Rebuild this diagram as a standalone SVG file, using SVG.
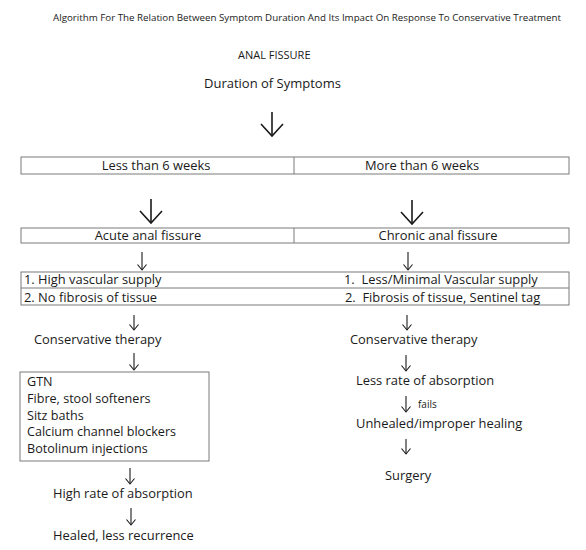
<svg xmlns="http://www.w3.org/2000/svg" width="586" height="550" viewBox="0 0 586 550">
<style>
text{font-family:"Open Sans","Noto Sans","DejaVu Sans",sans-serif;fill:#1a1a1a}
.t{font-size:12.9px}
.l{font-size:12.6px}
.m{text-anchor:middle}
.box{fill:#fff;stroke:#7a7a7a;stroke-width:1}
.c{stroke:#1a1a1a;fill:none}
.big{stroke-width:1.6}
.sm{stroke-width:1.1}
</style>
<defs>
<marker id="hb" markerUnits="userSpaceOnUse" viewBox="-14 -12 16 24" markerWidth="16" markerHeight="24" refX="0" refY="0" orient="auto">
<path d="M-12,-11 L0,0 L-12,11" fill="none" stroke="#1a1a1a" stroke-width="1.6"/>
</marker>
<marker id="hs" markerUnits="userSpaceOnUse" viewBox="-7 -6 8 12" markerWidth="8" markerHeight="12" refX="0" refY="0" orient="auto">
<path d="M-5.5,-4.5 L0,0 L-5.5,4.5" fill="none" stroke="#1a1a1a" stroke-width="1.1"/>
</marker>
</defs>
<rect width="586" height="550" fill="#fff"/>
<g id="title"><text x="53" y="21" style="font-size:9.75px">Algorithm For The Relation Between Symptom Duration And Its Impact On Response To Conservative Treatment</text></g>
<g id="anal-fissure"><text x="238" y="59" style="font-size:11px">ANAL FISSURE</text></g>
<g id="duration"><text x="204" y="88" style="font-size:13px">Duration of Symptoms</text></g>
<g id="row-weeks">
<rect class="box" x="21" y="157" width="548" height="17"/>
<line class="box" x1="294" y1="157" x2="294" y2="174"/>
<text class="t m" x="156" y="170">Less than 6 weeks</text>
<text class="t m" x="422" y="170">More than 6 weeks</text>
</g>
<g id="row-type">
<rect class="box" x="21" y="228" width="548" height="15"/>
<line class="box" x1="294" y1="228" x2="294" y2="243"/>
<text class="t m" x="148" y="240">Acute anal fissure</text>
<text class="t m" x="438" y="240">Chronic anal fissure</text>
</g>
<g id="row-features">
<rect class="box" x="21" y="272" width="548" height="33"/>
<line class="box" x1="21" y1="288" x2="569" y2="288"/>
<text class="t" x="24" y="284">1. High vascular supply</text>
<text class="t" x="24" y="302">2. No fibrosis of tissue</text>
<text class="t" x="344" y="284" xml:space="preserve">1.  Less/Minimal Vascular supply</text>
<text class="t" x="345" y="302" xml:space="preserve">2.  Fibrosis of tissue, Sentinel tag</text>
</g>
<g id="acute-conservative"><text class="t" x="34" y="344">Conservative therapy</text></g>
<g id="chronic-conservative"><text class="t" x="350" y="344">Conservative therapy</text></g>
<g id="treatments">
<rect class="box" x="20" y="372" width="189" height="89"/>
<text class="l" x="27" y="386">GTN</text>
<text class="l" x="27" y="402.75">Fibre, stool softeners</text>
<text class="l" x="27" y="419.5">Sitz baths</text>
<text class="l" x="27" y="436.25">Calcium channel blockers</text>
<text class="l" x="27" y="453">Botolinum injections</text>
</g>
<g id="high-absorption"><text class="t" x="53" y="498">High rate of absorption</text></g>
<g id="healed"><text class="t" x="53" y="540">Healed, less recurrence</text></g>
<g id="less-absorption"><text class="t" x="356" y="385">Less rate of absorption</text></g>
<g id="unhealed"><text class="t" x="356" y="428">Unhealed/improper healing</text></g>
<g id="surgery"><text class="t" x="385" y="480">Surgery</text></g>
<g id="connectors">
<line class="c big" x1="272" y1="112" x2="272" y2="136" marker-end="url(#hb)"/>
<line class="c big" x1="151" y1="199" x2="151" y2="223" marker-end="url(#hb)"/>
<line class="c big" x1="412" y1="200" x2="412" y2="224" marker-end="url(#hb)"/>
<line class="c sm" x1="142" y1="252" x2="142" y2="270" marker-end="url(#hs)"/>
<line class="c sm" x1="408" y1="252" x2="408" y2="270" marker-end="url(#hs)"/>
<line class="c sm" x1="134" y1="315" x2="134" y2="330" marker-end="url(#hs)"/>
<line class="c sm" x1="407" y1="315" x2="407" y2="330" marker-end="url(#hs)"/>
<line class="c sm" x1="134" y1="353" x2="134" y2="370" marker-end="url(#hs)"/>
<line class="c sm" x1="406" y1="355" x2="406" y2="371" marker-end="url(#hs)"/>
<line class="c sm" x1="130" y1="468" x2="130" y2="484" marker-end="url(#hs)"/>
<line class="c sm" x1="131" y1="508" x2="131" y2="525" marker-end="url(#hs)"/>
<line class="c sm" x1="406" y1="396" x2="406" y2="412" marker-end="url(#hs)"/>
<text x="418" y="408" style="font-size:10px">fails</text>
<line class="c sm" x1="406" y1="439" x2="406" y2="454" marker-end="url(#hs)"/>
</g>
</svg>
